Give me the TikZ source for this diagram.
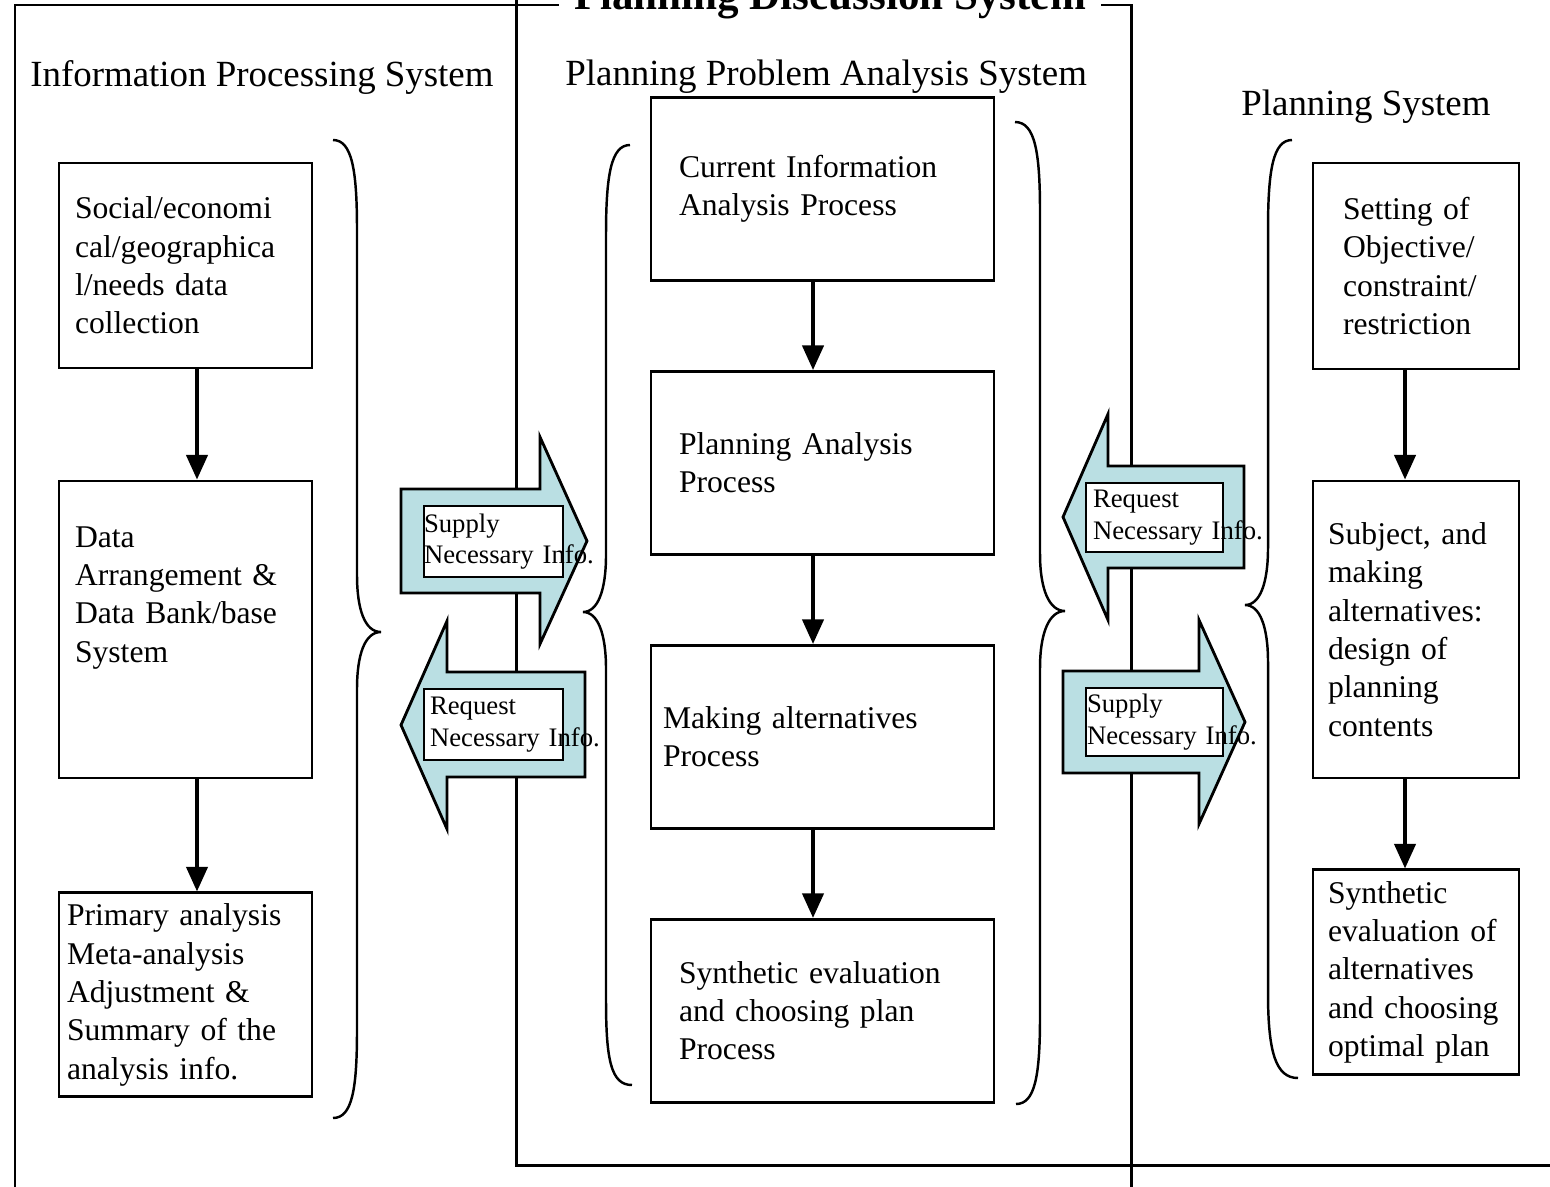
\documentclass[tikz,border=0pt]{standalone}
\usepackage{fontspec}
\setmainfont{Liberation Serif}
\usetikzlibrary{arrows.meta}
\definecolor{infoblue}{RGB}{186,223,227}
\tikzstyle{sysbox} = [rectangle, draw=black, line width=1.6pt, align=left, inner ysep=0pt, font=\fontsize{18}{21.8}\selectfont]
\tikzstyle{lbox} = [sysbox, minimum width=5.06cm, text width=4.42cm, inner xsep=0.32cm]
\tikzstyle{mbox} = [sysbox, minimum width=6.86cm, minimum height=3.66cm, text width=5.74cm, inner xsep=0.56cm]
\tikzstyle{rbox} = [sysbox, minimum width=4.12cm, text width=3.52cm, inner xsep=0.3cm]
\tikzstyle{infobox} = [rectangle, draw=black, fill=white, line width=1.6pt, align=left, inner ysep=0pt, font=\fontsize{15.2}{18}\selectfont]
\tikzstyle{header} = [anchor=base west, inner sep=0pt, font=\fontsize{21}{25}\selectfont]
\tikzstyle{maintitle} = [anchor=base, fill=white, inner xsep=0.3cm, inner ysep=0.1cm, font=\bfseries\fontsize{24.5}{28}\selectfont]
\tikzstyle{arrow} = [line width=2.2pt, -{Triangle[width=12pt,length=14pt]}]
\tikzstyle{sysframe} = [line width=1.7pt]
\tikzstyle{curly} = [line width=1.4pt]
\tikzstyle{blockarrow} = [draw=black, fill=infoblue, line width=1.6pt, line join=miter]

\begin{document}
\begin{tikzpicture}[x=0.02cm, y=-0.02cm, node distance=5.48cm]
    \clip (0,0) rectangle (1550,1186);

    % frames
    \draw[sysframe] (15,1200) |- (1131,5) -- (1131,1200);
    \draw[sysframe] (516,-20) |- (1570,1165);
    \node (pds) [maintitle] at (830,10) {Planning Discussion System};

    \node (ips) [header] at (30,87) {Information Processing System};
    \node (ppas) [header] at (565,86) {Planning Problem Analysis System};
    \node (ps) [header] at (1241,115) {Planning System};

    % information processing system
    \node (data) [lbox, minimum height=4.1cm] at (185.5,265.5) {Social/economi\\cal/geographica\\l/needs data\\collection};
    \node (bank) [lbox, minimum height=5.94cm, below of=data, yshift=-1.8cm] {Data\\Arrangement \&\\Data Bank/base\\System\rule[-1.4cm]{0pt}{0pt}};
    \node (primary) [lbox, minimum height=4.08cm, text width=4.74cm, inner xsep=0.16cm, below of=bank, yshift=-1.83cm] {Primary analysis\\Meta-analysis\\Adjustment \&\\Summary of the\\analysis info.};

    % planning problem analysis system
    \node (current) [mbox] at (822.5,189) {Current Information\\Analysis Process};
    \node (analysis) [mbox, below of=current] {Planning Analysis\\Process};
    \node (making) [mbox, text width=6.38cm, inner xsep=0.24cm, below of=analysis] {Making alternatives\\Process};
    \node (choosing) [mbox, below of=making] {Synthetic evaluation\\and choosing plan\\Process};

    % planning system
    \node (objective) [rbox, minimum height=4.12cm, text width=2.92cm, inner xsep=0.6cm] at (1416,266) {Setting of\\Objective/\\constraint/\\restriction};
    \node (subject) [rbox, minimum height=5.94cm, below of=objective, yshift=-1.79cm] {Subject, and\\making\\alternatives:\\design of\\planning\\contents};
    \node (optimal) [rbox, minimum height=4.1cm, below of=subject, yshift=-1.38cm] {Synthetic\\evaluation of\\alternatives\\and choosing\\optimal plan};

    \draw[arrow] ([xshift=0.23cm]data.south) -- ([xshift=0.23cm]bank.north);
    \draw[arrow] ([xshift=0.23cm]bank.south) -- ([xshift=0.23cm]primary.north);
    \draw[arrow] ([xshift=-0.19cm]current.south) -- ([xshift=-0.19cm]analysis.north);
    \draw[arrow] ([xshift=-0.19cm]analysis.south) -- ([xshift=-0.19cm]making.north);
    \draw[arrow] ([xshift=-0.19cm]making.south) -- ([xshift=-0.19cm]choosing.north);
    \draw[arrow] ([xshift=-0.22cm]objective.south) -- ([xshift=-0.22cm]subject.north);
    \draw[arrow] ([xshift=-0.22cm]subject.south) -- ([xshift=-0.22cm]optimal.north);

    % braces
    \draw[curly] (333,140) .. controls (352,140) and (357,170) .. (357,230) -- (357,575) .. controls (357,610) and (365,632) .. (381,632) .. controls (365,632) and (357,654) .. (357,689) -- (357,1030) .. controls (357,1090) and (352,1118) .. (333,1118);
    \draw[curly] (630,145) .. controls (611,145) and (606,175) .. (606,235) -- (606,555) .. controls (606,590) and (598,612) .. (583,612) .. controls (598,612) and (606,634) .. (606,669) -- (606,1000) .. controls (606,1060) and (611,1085) .. (632,1085);
    \draw[curly] (1015,122) .. controls (1035,122) and (1040,152) .. (1040,212) -- (1040,554) .. controls (1040,589) and (1049,611) .. (1065,611) .. controls (1049,611) and (1040,633) .. (1040,668) -- (1040,1016) .. controls (1040,1076) and (1035,1104) .. (1016,1104);
    \draw[curly] (1292,140) .. controls (1273,140) and (1268,170) .. (1268,230) -- (1268,548) .. controls (1268,583) and (1260,605) .. (1245,605) .. controls (1260,605) and (1268,627) .. (1268,662) -- (1268,993) .. controls (1268,1053) and (1276,1078) .. (1298,1078);

    % information flow
    \draw[blockarrow] (401,489) -- (540,489) -- (540,437) -- (587,541) -- (540,644) -- (540,593) -- (401,593) -- cycle;
    \draw[blockarrow] (585,672) -- (447,672) -- (447,621) -- (401,725) -- (447,829) -- (447,777) -- (585,777) -- cycle;
    \draw[blockarrow] (1244,466) -- (1108,466) -- (1108,414) -- (1063,517) -- (1108,620) -- (1108,568) -- (1244,568) -- cycle;
    \draw[blockarrow] (1063,671) -- (1199,671) -- (1199,620) -- (1245,722) -- (1199,824) -- (1199,773) -- (1063,773) -- cycle;

    \node (supplyL) [infobox, minimum height=1.42cm, text width=2.78cm, inner xsep=0pt] at (493.5,541.5) {Supply\\\mbox{Necessary Info.}};
    \node (requestL) [infobox, minimum height=1.42cm, text width=2.54cm, inner xsep=0.12cm] at (493.5,724.5) {Request\\\mbox{Necessary Info.}};
    \node (requestR) [infobox, minimum height=1.38cm, text width=2.46cm, inner xsep=0.14cm] at (1154.5,517.5) {Request\\\mbox{Necessary Info.}};
    \node (supplyR) [infobox, minimum height=1.36cm, text width=2.7cm, inner xsep=0.02cm] at (1154.5,722) {Supply\\\mbox{Necessary Info.}};
\end{tikzpicture}
\end{document}
